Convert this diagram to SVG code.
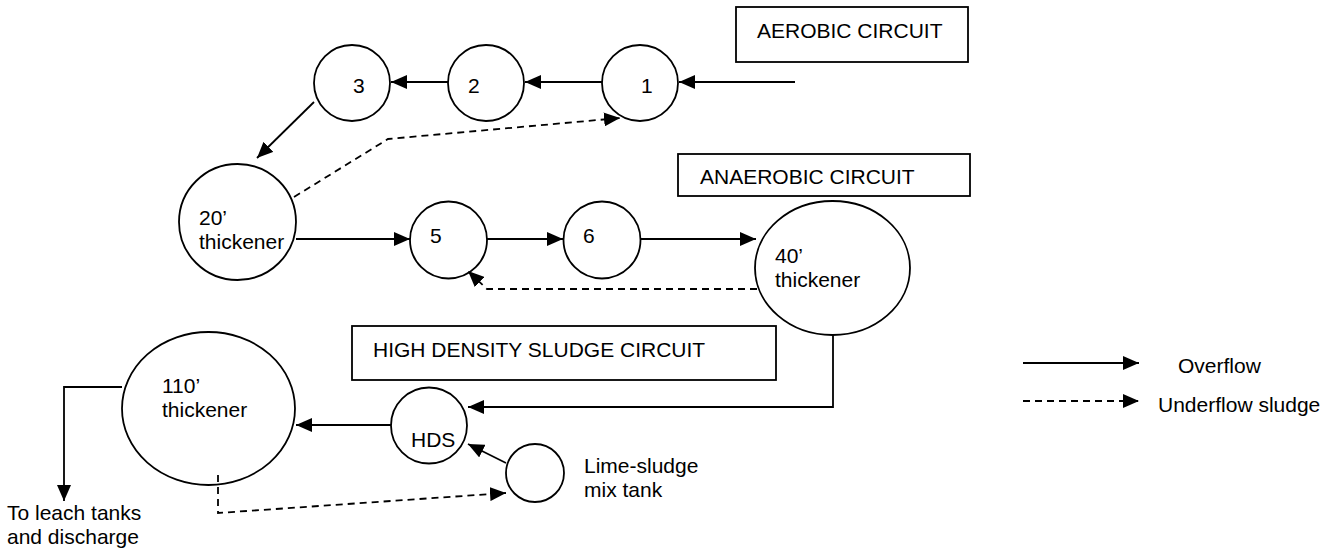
<svg xmlns="http://www.w3.org/2000/svg" width="1340" height="550" viewBox="0 0 1340 550">
<style>
text{font-family:"Liberation Sans",Arial,sans-serif;font-size:21px;fill:#000}
.n{fill:#fff;stroke:#000;stroke-width:1.8}
.b{fill:#fff;stroke:#000;stroke-width:1.8}
.c{fill:none;stroke:#000;stroke-width:1.8}
.d{fill:none;stroke:#000;stroke-width:1.8;stroke-dasharray:7 5}
</style>
<defs>
<marker id="ah" viewBox="0 0 16 14" refX="16" refY="7" markerWidth="16" markerHeight="14" markerUnits="userSpaceOnUse" orient="auto">
<path d="M0,0L16,7L0,14z" fill="#000"/>
</marker>
</defs>
<g id="aerobic-label"><rect class="b" x="736" y="7" width="232" height="55"/><text x="757" y="38">AEROBIC CIRCUIT</text></g>
<g id="anaerobic-label"><rect class="b" x="678" y="154" width="292" height="42"/><text x="700" y="184">ANAEROBIC CIRCUIT</text></g>
<g id="hds-label"><rect class="b" x="352" y="326" width="424" height="54"/><text x="373" y="357">HIGH DENSITY SLUDGE CIRCUIT</text></g>
<g id="tank1"><circle class="n" cx="640" cy="83" r="38"/><text x="641" y="93">1</text></g>
<g id="tank2"><circle class="n" cx="486" cy="83" r="38"/><text x="468" y="93">2</text></g>
<g id="tank3"><circle class="n" cx="352" cy="83" r="38"/><text x="353" y="93">3</text></g>
<g id="thickener20"><ellipse class="n" cx="237.5" cy="222" rx="58.5" ry="58"/><text x="199" y="225">20’</text><text x="199" y="249">thickener</text></g>
<g id="tank5"><circle class="n" cx="448.5" cy="240" r="38.5"/><text x="430" y="243">5</text></g>
<g id="tank6"><circle class="n" cx="602" cy="240" r="38.5"/><text x="583" y="243">6</text></g>
<g id="thickener40"><ellipse class="n" cx="832.5" cy="268" rx="77.5" ry="67"/><text x="775" y="263">40’</text><text x="775" y="287">thickener</text></g>
<g id="thickener110"><ellipse class="n" cx="208.5" cy="408.5" rx="86.5" ry="76.5"/><text x="162" y="393">110’</text><text x="162" y="417">thickener</text></g>
<g id="hds"><circle class="n" cx="429" cy="425.5" r="38"/><text x="411" y="447">HDS</text></g>
<g id="lime"><circle class="n" cx="535" cy="473" r="29"/><text x="584" y="473">Lime-sludge</text><text x="584" y="497">mix tank</text></g>
<g id="discharge"><text x="7" y="520">To leach tanks</text><text x="7" y="544">and discharge</text></g>
<g id="connectors">
<path class="c" d="M795,82H679" marker-end="url(#ah)"/>
<path class="c" d="M602,82H525" marker-end="url(#ah)"/>
<path class="c" d="M448,82H391" marker-end="url(#ah)"/>
<path class="c" d="M314,102L257,158" marker-end="url(#ah)"/>
<path class="d" d="M294,197L388,139L620,118" marker-end="url(#ah)"/>
<path class="c" d="M296,239H410" marker-end="url(#ah)"/>
<path class="c" d="M487,239H563" marker-end="url(#ah)"/>
<path class="c" d="M641,239H756" marker-end="url(#ah)"/>
<path class="d" d="M757,289H487L468,271" marker-end="url(#ah)"/>
<path class="c" d="M833,335V407H468" marker-end="url(#ah)"/>
<path class="c" d="M391,425H296" marker-end="url(#ah)"/>
<path class="c" d="M506,463L468,444" marker-end="url(#ah)"/>
<path class="c" d="M122,387H64V501" marker-end="url(#ah)"/>
<path class="d" d="M218,475V513L506,493" marker-end="url(#ah)"/>
</g>
<g id="legend">
<path class="c" d="M1023,363H1139" marker-end="url(#ah)"/>
<text x="1178" y="373">Overflow</text>
<path class="d" d="M1023,401H1139" marker-end="url(#ah)"/>
<text x="1158" y="412">Underflow sludge</text>
</g>
</svg>
